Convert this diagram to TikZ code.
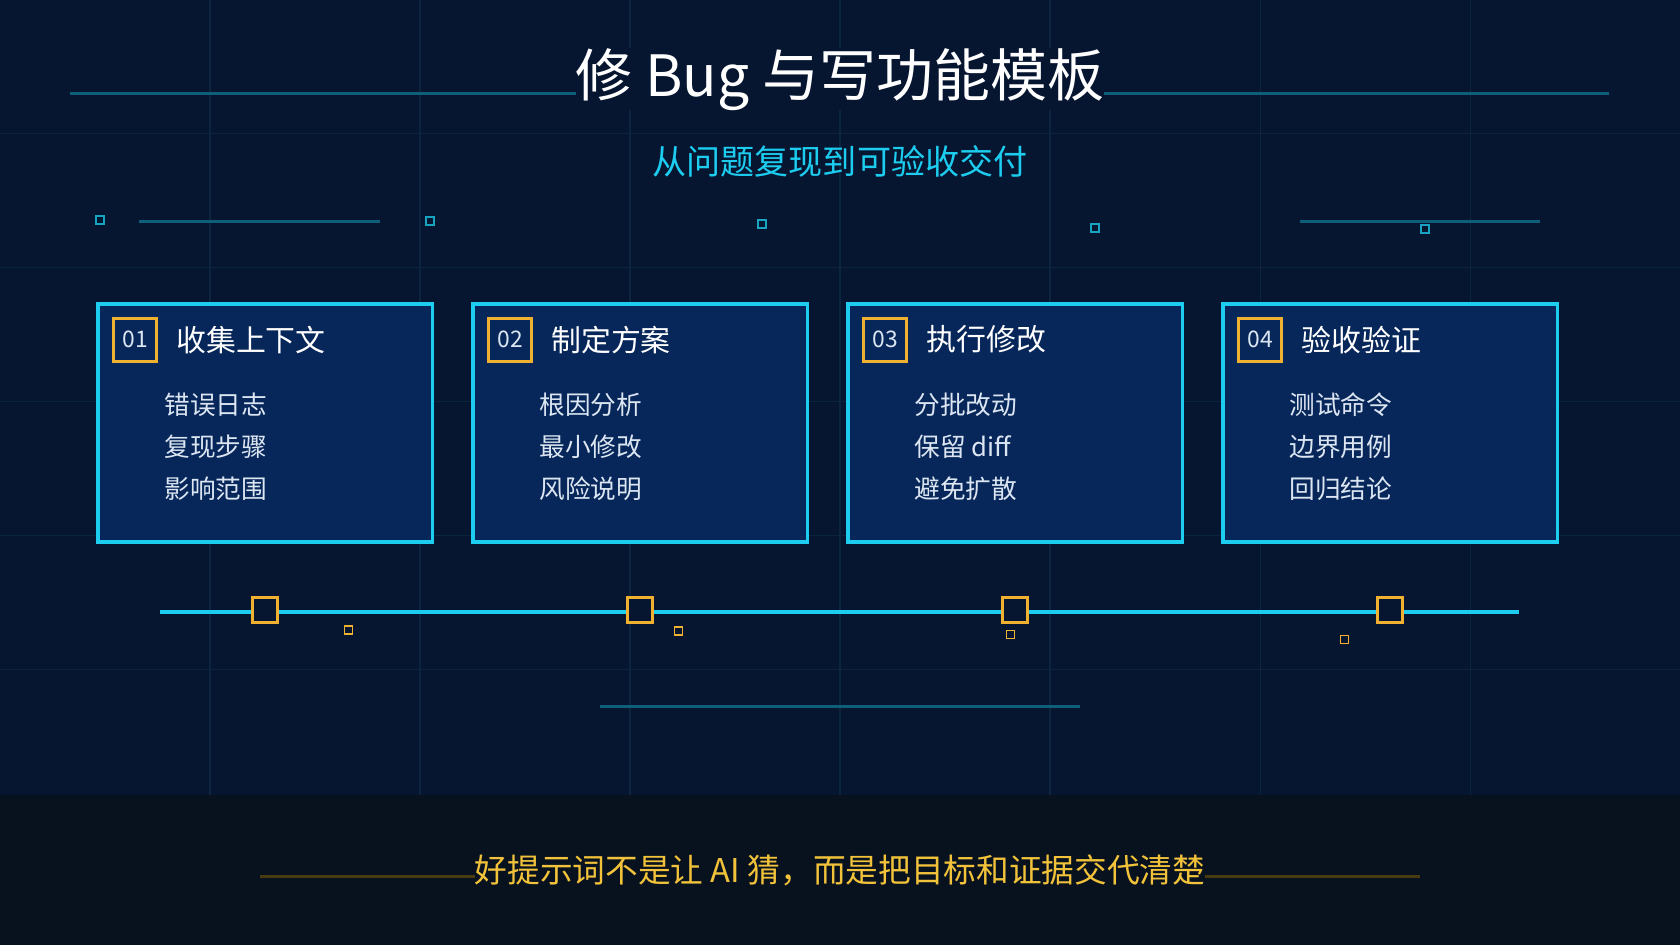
\documentclass[tikz,border=0pt]{standalone}
\usepackage{fontspec}
\setmainfont{Noto Sans CJK SC}
\usetikzlibrary{positioning}
\definecolor{bgnavy}{HTML}{061631}
\definecolor{bandnavy}{HTML}{08121F}
\definecolor{gridline}{HTML}{0B2540}
\definecolor{tealline}{HTML}{0E5F7A}
\definecolor{cyanedge}{HTML}{1CCDF0}
\definecolor{cardfill}{HTML}{07275A}
\definecolor{orangeedge}{HTML}{F0B030}
\definecolor{goldtext}{HTML}{F2C33A}
\definecolor{goldline}{HTML}{4A3A10}
\definecolor{itemtext}{HTML}{DCE6F2}
\tikzset{
  card/.style={draw=cyanedge, line width=1pt, fill=cardfill, minimum width=3.34cm, minimum height=2.38cm, anchor=north west},
  numbox/.style={draw=orangeedge, line width=0.8pt, minimum size=0.43cm, inner sep=0pt, font=\fontsize{6.5}{6.5}\selectfont, text=itemtext},
  cardtitle/.style={text=white, font=\fontsize{8.5}{8.5}\selectfont, anchor=west},
  item/.style={text=itemtext, font=\fontsize{7.3}{12}\selectfont, anchor=west, align=left, inner sep=0pt},
  marker/.style={draw=orangeedge, line width=0.8pt, minimum size=0.25cm, inner sep=0pt},
  dot/.style={draw=orangeedge, line width=0.4pt, minimum size=0.08cm, inner sep=0pt},
  cdot/.style={draw=cyanedge!80!black, line width=0.5pt, minimum size=0.08cm, inner sep=0pt},
}
\begin{document}
\begin{tikzpicture}[x=0.010714cm, y=-0.010714cm]
\useasboundingbox (0,0) rectangle (1568,882);
% background and grid
\fill[bgnavy] (0,0) rectangle (1568,882);
\foreach \gx in {196,392,...,1372} \draw[gridline, line width=0.3pt] (\gx,0) -- (\gx,742);
\foreach \gy in {125,250,...,625} \draw[gridline, line width=0.3pt] (0,\gy) -- (1568,\gy);
\fill[bandnavy] (0,742) rectangle (1568,882);

% title
\draw[tealline, line width=0.8pt] (65,87) -- (1502,87);
\node[fill=bgnavy, text=white, font=\fontsize{16.2}{16.2}\selectfont, inner xsep=0pt, inner ysep=0pt] (title) at (784,74) {修 Bug 与写功能模板};
\node[text=cyanedge, font=\fontsize{9.7}{9.7}\selectfont] (subtitle) at (784,151) {从问题复现到可验收交付};

% decorations
\draw[tealline, line width=0.8pt] (130,207) -- (355,207);
\draw[tealline, line width=0.8pt] (1213,207) -- (1437,207);
\foreach \dx/\dy in {93/205,401/206,711/209,1022/213,1330/214}
  \node[cdot] at (\dx,\dy) {};

% cards
\foreach \i/\cx/\num/\head/\a/\b/\c in {
  1/90/01/收集上下文/错误日志/复现步骤/影响范围,
  2/440/02/制定方案/根因分析/最小修改/风险说明,
  3/790/03/执行修改/分批改动/保留 diff/避免扩散,
  4/1140/04/验收验证/测试命令/边界用例/回归结论} {
  \node[card] (card\i) at (\cx,282) {};
  \node[numbox] (num\i) at (\cx+36,317) {\num};
  \node[cardtitle, right=0.06cm of num\i] (head\i) {\head};
  \node[item] (list\i) at (\cx+63,417) {\a\\\b\\\c};
}

% timeline
\coordinate (tl0) at (149,571);
\coordinate (tl1) at (1418,571);
\draw[cyanedge, line width=1.3pt] (tl0) -- (tl1);
\foreach \i/\mx/\sx/\sy in {1/247/325/588,2/597/633/589,3/947/943/592,4/1297/1255/597} {
  \node[marker, fill=bgnavy] (mark\i) at (\mx,569) {};
  \node[dot] (dot\i) at (\sx,\sy) {};
}
\draw[tealline, line width=0.8pt] (560,659) -- (1008,659);

% bottom message
\draw[goldline, line width=0.8pt] (243,818) -- (1325,818);
\node[fill=bandnavy, text=goldtext, font=\fontsize{9.3}{9.3}\selectfont, inner xsep=0pt, inner ysep=0pt] (motto) at (784,812) {好提示词不是让 AI 猜，而是把目标和证据交代清楚};
\end{tikzpicture}
\end{document}
